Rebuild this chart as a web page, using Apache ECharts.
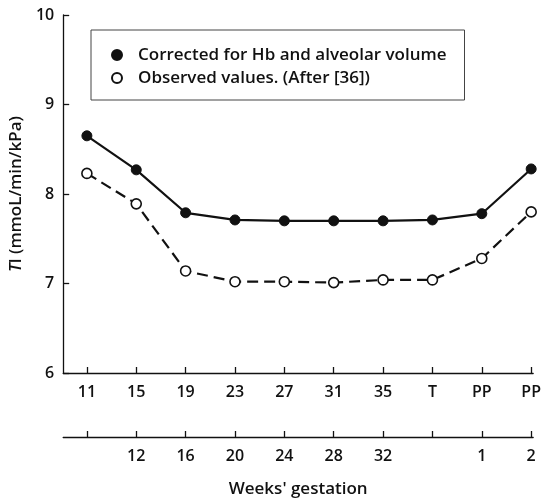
<!DOCTYPE html>
<html>
<head>
<meta charset="utf-8">
<script src="https://cdn.jsdelivr.net/npm/echarts@6/dist/echarts.min.js"></script>
<style>
  html, body { margin: 0; padding: 0; background: #fff; }
  #chart { width: 544px; height: 503px; }
</style>
</head>
<body>
<div id="chart"></div>
<script>
// Transfer index across pregnancy and post partum
const positions = [0, 1, 2, 3, 4, 5, 6, 7, 8, 9];
const stageLabels = ['11', '15', '19', '23', '27', '31', '35', 'T', 'PP', 'PP'];
const weekLabels = ['', '12', '16', '20', '24', '28', '32', '', '1', '2'];
const corrected = [8.65, 8.27, 7.79, 7.71, 7.70, 7.70, 7.70, 7.71, 7.78, 8.28];
const observed = [8.23, 7.89, 7.14, 7.02, 7.02, 7.01, 7.04, 7.04, 7.28, 7.80];
const yTicks = [6, 7, 8, 9, 10];

const FONT = '"Open Sans", "Noto Sans", sans-serif';
const WEIGHT = 600;
const INK = '#111';

const chart = echarts.init(document.getElementById('chart'), null, { renderer: 'canvas' });

const pairs = vals => positions.map((p, i) => [p, vals[i]]);

const labelStyle = { fontSize: 16, fontWeight: WEIGHT, color: INK, fontFamily: FONT };
const titleStyle = Object.assign({}, labelStyle, { fontSize: 17 });

const baseX = {
  type: 'value',
  min: -0.48,
  max: 9.04,
  position: 'bottom',
  splitLine: { show: false },
  axisLine: { show: true, onZero: false, lineStyle: { color: INK, width: 1.3 } },
  axisTick: { show: true, inside: true, length: 6, customValues: positions, lineStyle: { color: INK, width: 1.3 } },
};

chart.setOption({
  animation: false,
  backgroundColor: '#fff',
  textStyle: { fontFamily: FONT, color: INK },
  grid: { left: 63, right: 6, top: 15, bottom: 125, containLabel: false },
  legend: {
    orient: 'vertical',
    left: 91,
    top: 30,
    padding: [15, 18, 12, 20],
    itemGap: 3,
    itemWidth: 10,
    itemHeight: 10,
    borderColor: '#444',
    borderWidth: 1,
    textStyle: Object.assign({}, titleStyle, { lineHeight: 20, padding: [0, 0, 0, 11] }),
    data: [
      { name: 'Corrected for Hb and alveolar volume', icon: 'circle' },
      { name: 'Observed values. (After [36])', icon: 'circle' }
    ]
  },
  xAxis: [
    Object.assign({}, baseX, {
      axisLabel: Object.assign({
        customValues: positions,
        margin: 11,
        formatter: v => stageLabels[Math.round(v)]
      }, labelStyle)
    }),
    Object.assign({}, baseX, {
      offset: 64,
      name: "Weeks' gestation",
      nameLocation: 'middle',
      nameGap: 44,
      nameTextStyle: titleStyle,
      axisLabel: Object.assign({
        customValues: positions.filter((p, i) => weekLabels[i] !== ''),
        margin: 11,
        formatter: v => weekLabels[Math.round(v)]
      }, labelStyle)
    })
  ],
  yAxis: {
    type: 'value',
    min: yTicks[0],
    max: yTicks[yTicks.length - 1],
    interval: 1,
    splitLine: { show: false },
    axisLine: { show: true, onZero: false, lineStyle: { color: INK, width: 1.3 } },
    axisTick: { show: true, inside: true, length: 6, lineStyle: { color: INK, width: 1.3 } },
    axisLabel: Object.assign({ margin: 9 }, labelStyle),
    name: '{it|T}l (mmoL/min/kPa)',
    nameLocation: 'middle',
    nameGap: 33,
    nameRotate: 90,
    nameTextStyle: Object.assign({
      rich: { it: Object.assign({ fontStyle: 'italic' }, titleStyle) }
    }, titleStyle)
  },
  series: [
    {
      name: 'Corrected for Hb and alveolar volume',
      type: 'line',
      xAxisIndex: 0,
      data: pairs(corrected),
      symbol: 'circle',
      symbolSize: 10,
      lineStyle: { color: INK, width: 2.2 },
      itemStyle: { color: INK, borderColor: INK, borderWidth: 1 },
      z: 3
    },
    {
      name: 'Observed values. (After [36])',
      type: 'line',
      xAxisIndex: 0,
      data: pairs(observed),
      symbol: 'circle',
      symbolSize: 10,
      showAllSymbol: true,
      lineStyle: { color: INK, width: 2.2, type: [11, 6] },
      itemStyle: { color: '#fff', borderColor: INK, borderWidth: 1.6 },
      z: 2
    }
  ]
});
</script>
</body>
</html>
